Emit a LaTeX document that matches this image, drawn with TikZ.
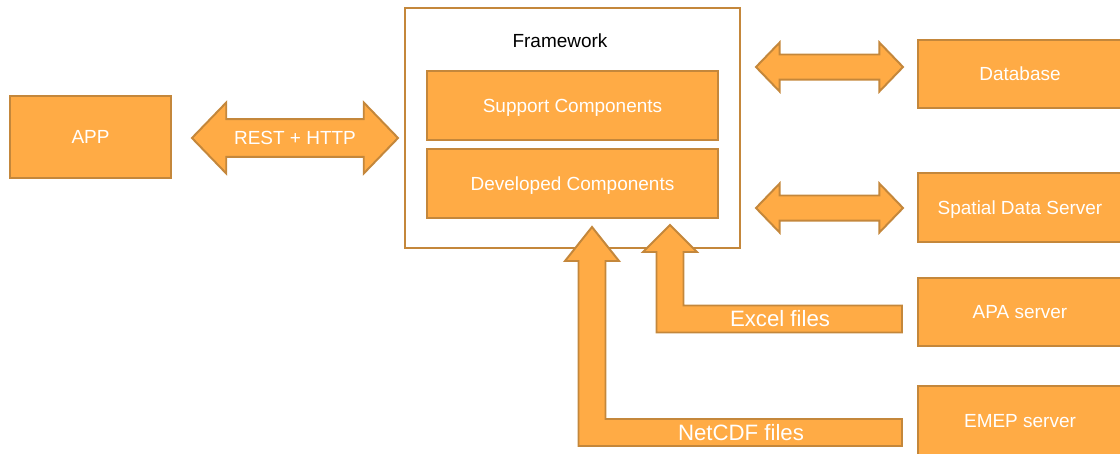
\documentclass[tikz,border=0pt]{standalone}
\usepackage{fontspec}
\setmainfont{Liberation Sans}
\usetikzlibrary{shapes.arrows, positioning, calc}
\definecolor{BoxOrange}{HTML}{FFAB45}
\definecolor{EdgeBrown}{HTML}{C4873B}
\tikzset{
  compbox/.style={rectangle, draw=EdgeBrown, fill=BoxOrange, line width=1.4pt, text=white, font=\fontsize{13.5}{16}\selectfont, align=center, text height=9.7pt, text depth=0pt},
  framebox/.style={rectangle, draw=EdgeBrown, fill=white, line width=1.4pt},
  linkarrow/.style={double arrow, draw=EdgeBrown, fill=BoxOrange, line width=1.4pt, text=white, font=\fontsize{13.5}{16}\selectfont, inner xsep=0pt, double arrow tip angle=92},
  feedarrow/.style={draw=EdgeBrown, fill=BoxOrange, line width=1.4pt, line join=miter},
  feedlabel/.style={text=white, font=\fontsize{15.8}{18}\selectfont, text height=11.3pt, text depth=0pt}
}

\begin{document}
\begin{tikzpicture}[x=0.025cm, y=-0.025cm]
  \useasboundingbox (0,0) rectangle (1120,454);

  % client side
  \node[compbox, minimum width=4.025cm, minimum height=2.05cm] (app) at (90.5,137) {APP};

  % framework with its two layers
  \node[framebox, minimum width=8.375cm, minimum height=6cm] (fw) at (572.5,128) {};
  \node[font=\fontsize{13.5}{16}\selectfont, text height=9.7pt, text depth=0pt] (fwlabel) at (560,41) {Framework};
  \node[compbox, minimum width=7.275cm, minimum height=1.725cm] (support) at (572.5,105.5) {Support Components};
  \node[compbox, minimum width=7.275cm, minimum height=1.725cm] (developed) at (572.5,183.5) {Developed Components};

  % external services
  \node[compbox, minimum width=5.1cm, minimum height=1.7cm] (db) at (1020,74) {Database};
  \node[compbox, minimum width=5.1cm, minimum height=1.725cm] (spatial) at (1020,207.5) {Spatial Data Server};
  \node[compbox, minimum width=5.1cm, minimum height=1.7cm] (apa) at (1020,312) {APA server};
  \node[compbox, minimum width=5.1cm, minimum height=1.75cm] (emep) at (1020,421) {EMEP server};

  % two-way links
  \node[linkarrow, minimum height=5.15cm, minimum width=49pt, double arrow head extend=11.8pt,
        text height=9.5pt, text depth=0pt, inner ysep=8pt] (rest) at (295,138) {REST + HTTP};
  \node[linkarrow, minimum height=3.675cm, minimum width=33.4pt, double arrow head extend=8.5pt,
        text height=0pt, text depth=0pt, inner ysep=8.2pt] (dblink) at (829.5,67) {};
  \node[linkarrow, minimum height=3.675cm, minimum width=33.4pt, double arrow head extend=8.5pt,
        text height=0pt, text depth=0pt, inner ysep=8.2pt] (splink) at (829.5,208) {};

  % file feeds into the developed components
  \coordinate (xlsend) at ($(apa.west)+(-15,7)$);
  \coordinate (xlstip) at (670,225);
  \filldraw[feedarrow] ($(xlsend)+(0,-13.5)$) -- (683.5,305.5) -- (683.5,252) -- (697,252)
    -- (xlstip) -- (643,252) -- (656.5,252) -- (656.5,332.5) -- ($(xlsend)+(0,13.5)$) -- cycle;
  \node[feedlabel] (xlslabel) at (780,319) {Excel files};

  \coordinate (ncend) at ($(emep.west)+(-15,11.5)$);
  \coordinate (nctip) at (592,227);
  \filldraw[feedarrow] ($(ncend)+(0,-13.5)$) -- (605.5,419) -- (605.5,261) -- (619,261)
    -- (nctip) -- (565,261) -- (578.5,261) -- (578.5,446) -- ($(ncend)+(0,13.5)$) -- cycle;
  \node[feedlabel] (nclabel) at (741,433) {NetCDF files};
\end{tikzpicture}
\end{document}
